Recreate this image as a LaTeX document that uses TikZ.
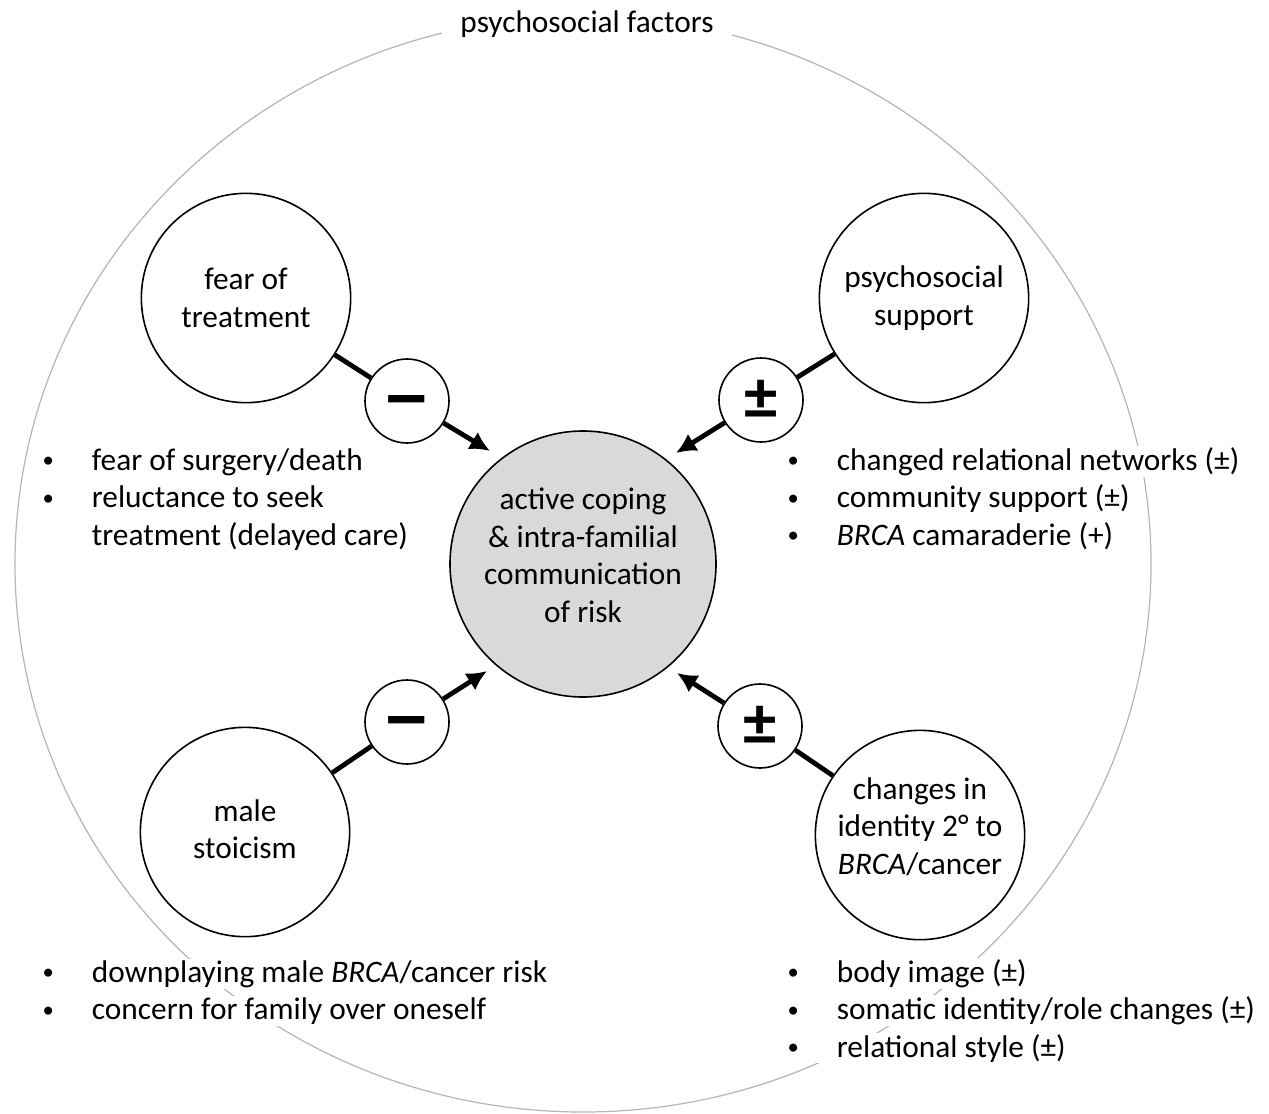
\documentclass[tikz,border=0pt]{standalone}
\usepackage{graphicx}
\usepackage{fontspec}
\setmainfont{Carlito}
\usetikzlibrary{arrows.meta}
\definecolor{coregray}{HTML}{D9D9D9}
\definecolor{ringgray}{HTML}{B4B4B4}
\newcommand{\dotmark}{\makebox[37pt][l]{\raisebox{1.8pt}{\fontsize{17}{17}\selectfont•}}}
\newcommand{\minusmark}{\vphantom{±}\raisebox{-6.5pt}{\scalebox{1.4}[1.2]{−}}}

\begin{document}
\begin{tikzpicture}[x=0.75pt,y=-0.75pt,font=\fontsize{23.5}{28.1}\selectfont]
  \tikzset{factor/.style = {shape=circle,draw,line width=1.2pt,minimum size=157pt,inner sep=0pt,align=center,fill=white}}
  \tikzset{corefactor/.style = {factor,fill=coregray,minimum size=199.5pt}}
  \tikzset{sign/.style = {shape=circle,draw,line width=1.2pt,minimum size=63pt,inner sep=0pt,fill=white,font=\fontsize{50}{50}\selectfont\bfseries}}
  \tikzset{link/.style = {line width=3.6pt}}
  \tikzset{edge/.style = {line width=3.6pt,-{Latex[length=15pt,width=15pt]}}}
  \tikzset{item/.style = {anchor=base west,fill=white,inner sep=1pt}}
  \tikzset{heading/.style = {fill=white,inner xsep=14pt,inner ysep=2pt}}

  \useasboundingbox (0,0) rectangle (1269,1113);

  % outer ring
  \draw[ringgray,line width=0.9pt] (583,564) ellipse [x radius=568,y radius=548];
  \node[heading] (PF) at (587,24) {psychosocial factors};

  \node[corefactor,text depth=13.5pt] (AC) at (583,564) {active coping\\\& intra-familial\\communication\\of risk};

  \node[factor] (FT) at (246,298) {fear of\\treatment};
  \node[factor] (PS) at (924,298) {psychosocial\\support};
  \node[factor,text depth=4pt] (MS) at (245,832) {male\\stoicism};
  \node[factor,text depth=14pt] (CI) at (920,835) {changes in\\identity 2° to\\\textit{BRCA}/cancer};

  \node[sign] (SFT) at (407,401) {\minusmark};
  \node[sign] (SPS) at (761,400) {±};
  \node[sign] (SMS) at (407,722) {\minusmark};
  \node[sign] (SCI) at (760,726) {±};

  \coordinate (TFT) at (490,451);
  \coordinate (TPS) at (676,453);
  \coordinate (TMS) at (487,671);
  \coordinate (TCI) at (677,673);

    \foreach \from/\to in {FT/SFT, PS/SPS, MS/SMS, CI/SCI}
    \path[link](\from) edge (\to);

    \foreach \from/\to in {SFT/TFT, SPS/TPS, SMS/TMS, SCI/TCI}
    \path[edge](\from) edge (\to);

  % bullet lists
  \node[item] (FT1) at (41,470) {\dotmark fear of surgery/death};
  \node[item] (FT2) at (41,507.5) {\dotmark reluctance to seek};
  \node[item] (FT3) at (41,545) {\makebox[37pt][l]{}treatment (delayed care)};

  \node[item] (PS1) at (786,470) {\dotmark changed relational networks (±)};
  \node[item] (PS2) at (786,507.5) {\dotmark community support (±)};
  \node[item] (PS3) at (786,545) {\dotmark\textit{BRCA} camaraderie (+)};

  \node[item] (MS1) at (41,982) {\dotmark downplaying male \textit{BRCA}/cancer risk};
  \node[item] (MS2) at (41,1019.5) {\dotmark concern for family over oneself};

  \node[item] (CI1) at (786,982) {\dotmark body image (±)};
  \node[item] (CI2) at (786,1019.5) {\dotmark somatic identity/role changes (±)};
  \node[item] (CI3) at (786,1057) {\dotmark relational style (±)};

\end{tikzpicture}
\end{document}
